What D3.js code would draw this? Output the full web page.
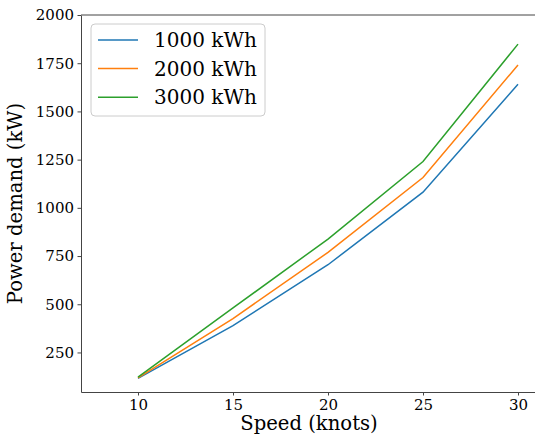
<!DOCTYPE html>
<html>
<head>
<meta charset="utf-8">
<script src="https://cdn.jsdelivr.net/npm/d3@7"></script>
<style>
  body { margin: 0; background: #fff; }
  svg text { font-family: "DejaVu Serif", serif; fill: #000; }
</style>
</head>
<body>
<div id="chart"></div>
<script>
// Data
const speeds = [10, 15, 20, 25, 30];
const seriesNames = ["1000 kWh", "2000 kWh", "3000 kWh"];
const power1000 = [116, 389, 705, 1081, 1641];
const power2000 = [118, 426, 769, 1157, 1741];
const power3000 = [122, 481, 838, 1240, 1849];
const yTicks = [250, 500, 750, 1000, 1250, 1500, 1750, 2000];
const xTicks = [10, 15, 20, 25, 30];
const colors = ["#1f77b4", "#ff7f0e", "#2ca02c"];

const series = [power1000, power2000, power3000].map((vals, i) => ({
    name: seriesNames[i],
    values: speeds.map((s, j) => ({speed: s, power: vals[j]}))
}));

// Dimensions and margins
const margin = {top: 15, right: -2, bottom: 45, left: 81},
    width = 535 - margin.left - margin.right,
    height = 437 - margin.top - margin.bottom;

const svg = d3.select("#chart")
    .append("svg")
    .attr("width", 535)
    .attr("height", 437)
    .append("g")
    .attr("transform", `translate(${margin.left},${margin.top})`);

// Scales
const x = d3.scaleLinear()
    .domain([7, 31])
    .range([0, width]);

const y = d3.scaleLinear()
    .domain([45, 2000])
    .range([height, 0]);

// Axes
const xAxis = svg.append("g")
    .attr("transform", `translate(0,${height})`)
    .call(d3.axisBottom(x).tickValues(xTicks).tickFormat(d3.format("d"))
        .tickSize(3.5).tickSizeOuter(0).tickPadding(3.5));

const yAxis = svg.append("g")
    .call(d3.axisLeft(y).tickValues(yTicks).tickFormat(d3.format("d"))
        .tickSize(3.5).tickSizeOuter(0).tickPadding(3.5));

[xAxis, yAxis].forEach(a => {
    a.select(".domain").attr("stroke", "#444").attr("stroke-width", 1);
    a.selectAll(".tick line").attr("stroke", "#444");
    a.selectAll(".tick text").style("font-size", "15px").attr("fill", "#000");
});

// Top spine
svg.append("line")
    .attr("x1", 0).attr("x2", width)
    .attr("y1", 0).attr("y2", 0)
    .attr("stroke", "#444")
    .attr("stroke-width", 1);

// Axis labels
svg.append("text")
    .attr("x", width / 2)
    .attr("y", height + 38)
    .style("text-anchor", "middle")
    .style("font-size", "19.6px")
    .text("Speed (knots)");

svg.append("text")
    .attr("transform", "rotate(-90)")
    .attr("x", -height / 2)
    .attr("y", -margin.left + 22)
    .style("text-anchor", "middle")
    .style("font-size", "19.6px")
    .text("Power demand (kW)");

// Lines
const line = d3.line()
    .x(d => x(d.speed))
    .y(d => y(d.power));

svg.selectAll(".series")
    .data(series)
    .enter()
    .append("path")
    .attr("class", "series")
    .attr("fill", "none")
    .attr("stroke", (d, i) => colors[i])
    .attr("stroke-width", 1.5)
    .attr("d", d => line(d.values));

// Legend
const legend = svg.append("g")
    .attr("transform", "translate(10,9)");

legend.append("rect")
    .attr("width", 174)
    .attr("height", 92)
    .attr("rx", 4)
    .attr("fill", "#fff")
    .attr("fill-opacity", 0.8)
    .attr("stroke", "#ccc")
    .attr("stroke-width", 1);

seriesNames.forEach((name, i) => {
    const yy = 16 + i * 28.6;
    legend.append("line")
        .attr("x1", 7).attr("x2", 47)
        .attr("y1", yy).attr("y2", yy)
        .attr("stroke", colors[i])
        .attr("stroke-width", 1.5);
    legend.append("text")
        .attr("x", 63)
        .attr("y", yy + 7)
        .style("font-size", "20px")
        .text(name);
});
</script>
</body>
</html>
